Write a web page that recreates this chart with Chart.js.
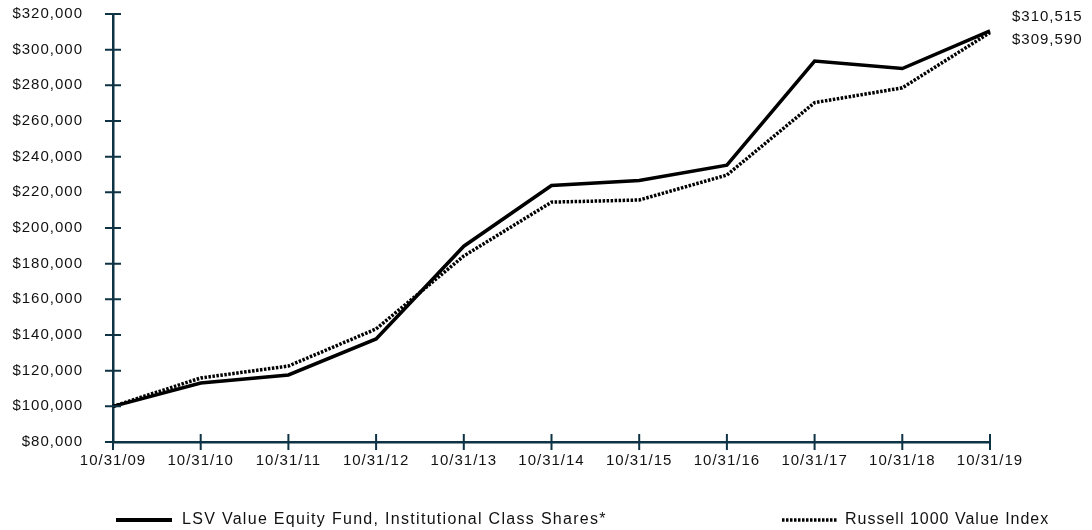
<!DOCTYPE html>
<html>
<head>
<meta charset="utf-8">
<script src="https://cdn.jsdelivr.net/npm/chart.js@4.4.1/dist/chart.umd.min.js"></script>
<style>
    html, body { margin: 0; padding: 0; background: #fff; }
    canvas { display: block; }
</style>
</head>
<body>
<canvas id="growthChart" width="1092" height="530"></canvas>
<script>
// values
const dates = ['10/31/09', '10/31/10', '10/31/11', '10/31/12', '10/31/13', '10/31/14', '10/31/15', '10/31/16', '10/31/17', '10/31/18', '10/31/19'];
const lsvValues = [100000, 113100, 117600, 137800, 189800, 223800, 226700, 235200, 293600, 289400, 310515];
const russellValues = [100000, 115900, 122600, 143400, 184300, 214500, 215700, 229700, 270300, 278600, 309590];
const seriesNames = ['LSV Value Equity Fund, Institutional Class Shares*', 'Russell 1000 Value Index'];
const endLabels = ['$310,515', '$309,590'];

const axisColor = '#0e3345';
const textColor = '#111';
const fontFamily = '"Liberation Sans", Arial, Helvetica, sans-serif';

const money = v => '$' + v.toLocaleString('en-US');

// text in the reference is set a little wide
const letterSpacingPlugin = {
    id: 'letterSpacing',
    beforeDraw(chart) {
        chart.ctx.letterSpacing = '1px';
    }
};

// ticks cross the axis line on both sides, so draw them here
const crossTicksPlugin = {
    id: 'crossTicks',
    afterDatasetsDraw(chart) {
        const { ctx, chartArea, scales } = chart;
        ctx.save();
        ctx.strokeStyle = axisColor;
        ctx.lineWidth = 2;
        ctx.beginPath();
        scales.y.ticks.forEach((t, i) => {
            const y = scales.y.getPixelForTick(i);
            ctx.moveTo(chartArea.left - 8, y);
            ctx.lineTo(chartArea.left + 8, y);
        });
        scales.x.ticks.forEach((t, i) => {
            const x = scales.x.getPixelForTick(i);
            ctx.moveTo(x, chartArea.bottom + 8);
            ctx.lineTo(x, chartArea.bottom - 8);
        });
        ctx.stroke();
        ctx.restore();
    }
};

// end values and the legend at the bottom
const annotationsPlugin = {
    id: 'annotations',
    afterDraw(chart) {
        const { ctx, chartArea, scales } = chart;
        const last = dates.length - 1;
        const yEnd = scales.y.getPixelForValue(lsvValues[last]);
        ctx.save();
        ctx.letterSpacing = '1px';
        ctx.fillStyle = textColor;
        ctx.textBaseline = 'middle';
        ctx.textAlign = 'left';
        ctx.font = '15px ' + fontFamily;
        ctx.fillText(endLabels[0], chartArea.right + 22, yEnd - 14);
        ctx.fillText(endLabels[1], chartArea.right + 22, yEnd + 9);

        // legend
        const ly = 520;
        ctx.font = '16px ' + fontFamily;
        ctx.strokeStyle = '#000';
        ctx.lineWidth = 4;
        ctx.beginPath();
        ctx.moveTo(116, ly);
        ctx.lineTo(172, ly);
        ctx.stroke();
        ctx.letterSpacing = '1.3px';
        ctx.fillText(seriesNames[0], 182, ly);

        ctx.lineWidth = 3.5;
        ctx.setLineDash([2.5, 1.5]);
        ctx.beginPath();
        ctx.moveTo(782, ly);
        ctx.lineTo(837, ly);
        ctx.stroke();
        ctx.setLineDash([]);
        ctx.letterSpacing = '1px';
        ctx.fillText(seriesNames[1], 845, ly);
        ctx.restore();
    }
};

const ctx = document.getElementById('growthChart').getContext('2d');

new Chart(ctx, {
    type: 'line',
    data: {
        labels: dates,
        datasets: [
            {
                label: seriesNames[0],
                data: lsvValues,
                borderColor: '#000',
                borderWidth: 3.5,
                pointRadius: 0,
                tension: 0,
                fill: false
            },
            {
                label: seriesNames[1],
                data: russellValues,
                borderColor: '#000',
                borderWidth: 3.5,
                borderDash: [2.5, 1.5],
                pointRadius: 0,
                tension: 0,
                fill: false
            }
        ]
    },
    options: {
        responsive: false,
        animation: false,
        layout: {
            padding: { top: 14, right: 102, bottom: 48, left: 0 }
        },
        plugins: {
            legend: { display: false },
            tooltip: { enabled: false }
        },
        scales: {
            x: {
                offset: false,
                grid: {
                    drawOnChartArea: false,
                    drawTicks: true,
                    tickLength: 8,
                    tickColor: 'rgba(0,0,0,0)'
                },
                border: { color: axisColor, width: 2.5 },
                ticks: {
                    color: textColor,
                    font: { family: fontFamily, size: 15 },
                    padding: 2,
                    maxRotation: 0,
                    autoSkip: false
                },
                afterFit: (scale) => { scale.height = 40; }
            },
            y: {
                min: 80000,
                max: 320000,
                grid: {
                    drawOnChartArea: false,
                    drawTicks: true,
                    tickLength: 28,
                    tickColor: 'rgba(0,0,0,0)'
                },
                border: { color: axisColor, width: 2.5 },
                ticks: {
                    stepSize: 20000,
                    color: textColor,
                    font: { family: fontFamily, size: 15 },
                    padding: 2,
                    callback: (v) => money(v)
                },
                afterFit: (scale) => { scale.width = 113; }
            }
        }
    },
    plugins: [letterSpacingPlugin, crossTicksPlugin, annotationsPlugin]
});
</script>
</body>
</html>
